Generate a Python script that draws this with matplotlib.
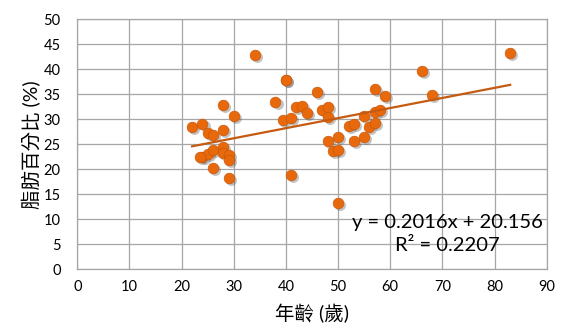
import matplotlib.pyplot as plt
import matplotlib.transforms as mtransforms

plt.rcParams['font.family'] = ['Lato', 'Noto Sans CJK TC', 'DejaVu Sans']

# 年齡 vs 脂肪百分比
age = [22, 24, 25, 26, 28, 30, 28, 34, 38, 40,
       24, 25, 26, 28, 28, 29, 29, 26, 29, 23.5,
       40, 46, 42, 43, 44, 47, 48, 48, 39.5, 41,
       52, 53, 48, 50, 53, 49, 50, 41, 50,
       57, 59, 55, 57, 58, 56, 57, 55, 66, 68, 83]
fat = [28.5, 29.0, 27.3, 26.9, 27.9, 30.7, 32.9, 42.9, 33.5, 37.9,
       22.5, 23.0, 23.9, 24.4, 23.2, 22.9, 21.9, 20.2, 18.2, 22.5,
       37.9, 35.5, 32.5, 32.7, 31.2, 31.9, 32.4, 30.5, 29.9, 30.2,
       28.7, 29.1, 25.7, 26.4, 25.7, 23.7, 23.9, 18.8, 13.2,
       36.0, 34.7, 30.7, 31.5, 31.9, 28.5, 29.3, 26.5, 39.6, 34.9, 43.2]

# 線性趨勢線係數
slope = 0.2016
intercept = 20.156
r2 = 0.2207

fig = plt.figure(figsize=(5.71, 3.36), dpi=100)
ax = fig.add_axes([0.1354, 0.1985, 0.822, 0.7441])

# 陰影
shadow = ax.transData + mtransforms.ScaledTranslation(1.5 / 72, -1.5 / 72, fig.dpi_scale_trans)
ax.scatter(age, fat, s=62, color='#555555', alpha=0.35, linewidths=0,
           transform=shadow, zorder=2)
ax.scatter(age, fat, s=60, color='#E8680C', edgecolors='#C45508',
           linewidths=0.4, zorder=3)

x0, x1 = min(age), max(age)
ax.plot([x0, x1], [slope * x0 + intercept, slope * x1 + intercept],
        color='#C55A11', linewidth=1.6, zorder=4)

ax.text(71, 7.0, f'y = {slope}x + {intercept}\nR² = {r2}', ha='center',
        va='center', fontsize=14.5, linespacing=1.45, zorder=5)

ax.set_xlim(0, 90)
ax.set_ylim(0, 50)
ax.set_xticks(range(0, 91, 10))
ax.set_yticks(range(0, 51, 5))
ax.grid(True, color='#a6a6a6', linewidth=0.9)
ax.set_axisbelow(True)
for s in ax.spines.values():
    s.set_color('#a6a6a6')
    s.set_linewidth(0.9)
ax.tick_params(length=0, labelsize=10.5, pad=8)
ax.tick_params(axis='y', pad=12)

ax.set_xlabel('年齡 (歲)', fontsize=14, labelpad=7)
ax.set_ylabel('脂肪百分比 (%)', fontsize=14, labelpad=2)

fig.savefig('out.png', dpi=100)
